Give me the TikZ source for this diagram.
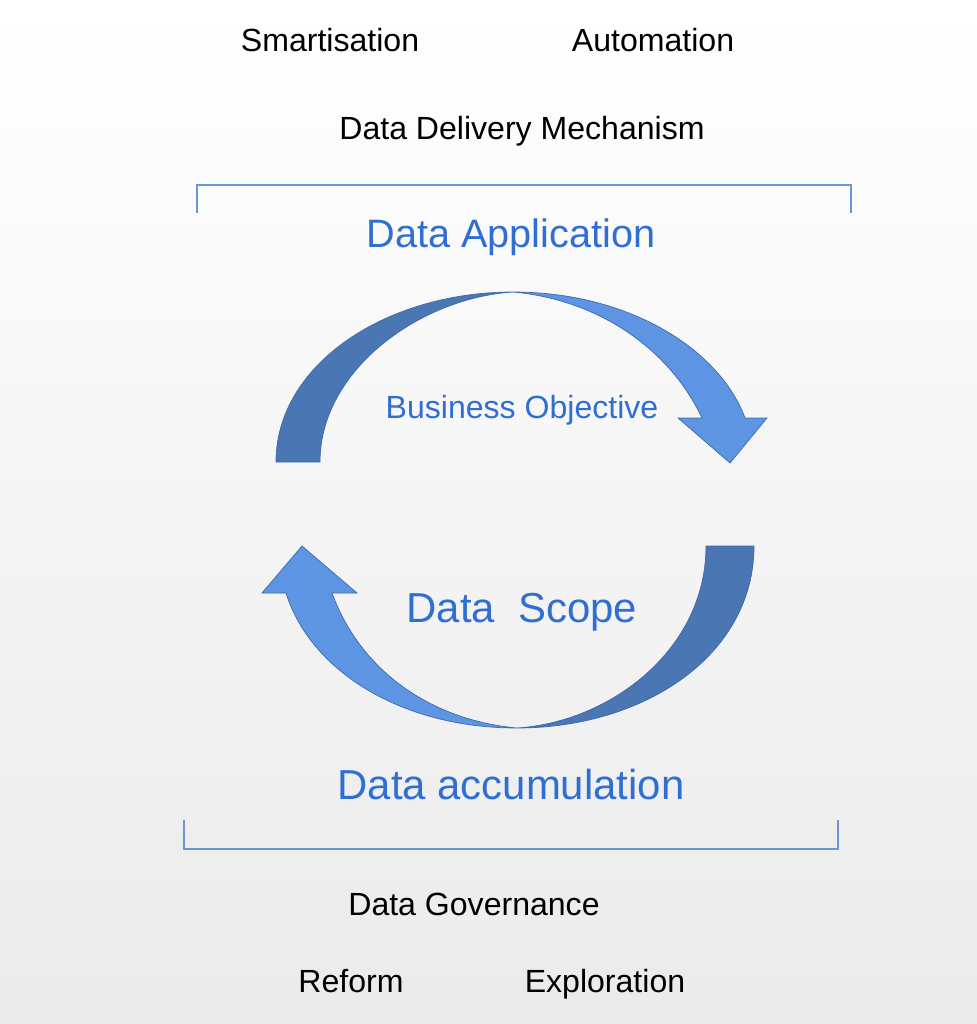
\documentclass[tikz,border=0pt]{standalone}
\usepackage{fontspec}
\setmainfont{Liberation Sans}
\definecolor{darkarc}{HTML}{4A76B4}
\definecolor{lightarc}{HTML}{5E95E2}
\definecolor{arcline}{HTML}{3F6AAA}
\definecolor{titleblue}{HTML}{2F6FD4}
\definecolor{bracketblue}{HTML}{6C96D2}
\begin{document}
\begin{tikzpicture}[x=0.025cm,y=-0.025cm,
                    plain/.style={font=\fontsize{22.8}{27}\selectfont,text=black,anchor=base},
                    title/.style={font=\fontsize{28.2}{33}\selectfont,text=titleblue},
                    big/.style={font=\fontsize{29.8}{35}\selectfont,text=titleblue},
                    dark/.style={fill=darkarc,draw=arcline,line width=0.5pt},
                    light/.style={fill=lightarc,draw=arcline,line width=0.5pt},
                    bracket/.style={draw=bracketblue,line width=0.8pt}]
    \shade[top color=white,bottom color=black!8] (0,0) rectangle (977,1024);
    \useasboundingbox (0,0) rectangle (977,1024);
    % texts
    \node [plain] (smart) at (330,52) {Smartisation};
    \node [plain] (auto) at (653,52) {Automation};
    \node [plain] (delivery) at (522,140) {Data Delivery Mechanism};
    \node [title] (app) at (511,237) {Data Application};
    \node [plain,text=titleblue] (goal) at (522,418) {Business Objective};
    \node [big] (scope) at (522,612) {Data\ \ Scope};
    \node [big] (accum) at (511,785) {Data accumulation};
    \node [plain] (gov) at (474,915) {Data Governance};
    \node [plain] (reform) at (351,992) {Reform};
    \node [plain] (explore) at (605,992) {Exploration};
    % brackets
    \draw [bracket] (197,213) -- (197,185) -- (851,185) -- (851,213);
    \draw [bracket] (184,820) -- (184,849) -- (838,849) -- (838,820);
    % upper arrow
    \draw [dark] (276,462) .. controls (276,365) and (385,292) .. (513,292)
      .. controls (420,298) and (320,370) .. (320,462) -- cycle;
    \draw [light] (513,292) .. controls (630,292) and (720,350) .. (745,418)
      -- (767,418) -- (730,463) -- (678,418) -- (702,418)
      .. controls (670,350) and (600,300) .. (513,292) -- cycle;
    % lower arrow
    \draw [dark] (754,546) .. controls (754,655) and (645,728) .. (517,728)
      .. controls (610,722) and (706,650) .. (706,546) -- cycle;
    \draw [light] (517,728) .. controls (400,728) and (310,670) .. (286,593)
      -- (262,593) -- (302,546) -- (357,593) -- (332,593)
      .. controls (360,670) and (430,720) .. (517,728) -- cycle;
\end{tikzpicture}
\end{document}
